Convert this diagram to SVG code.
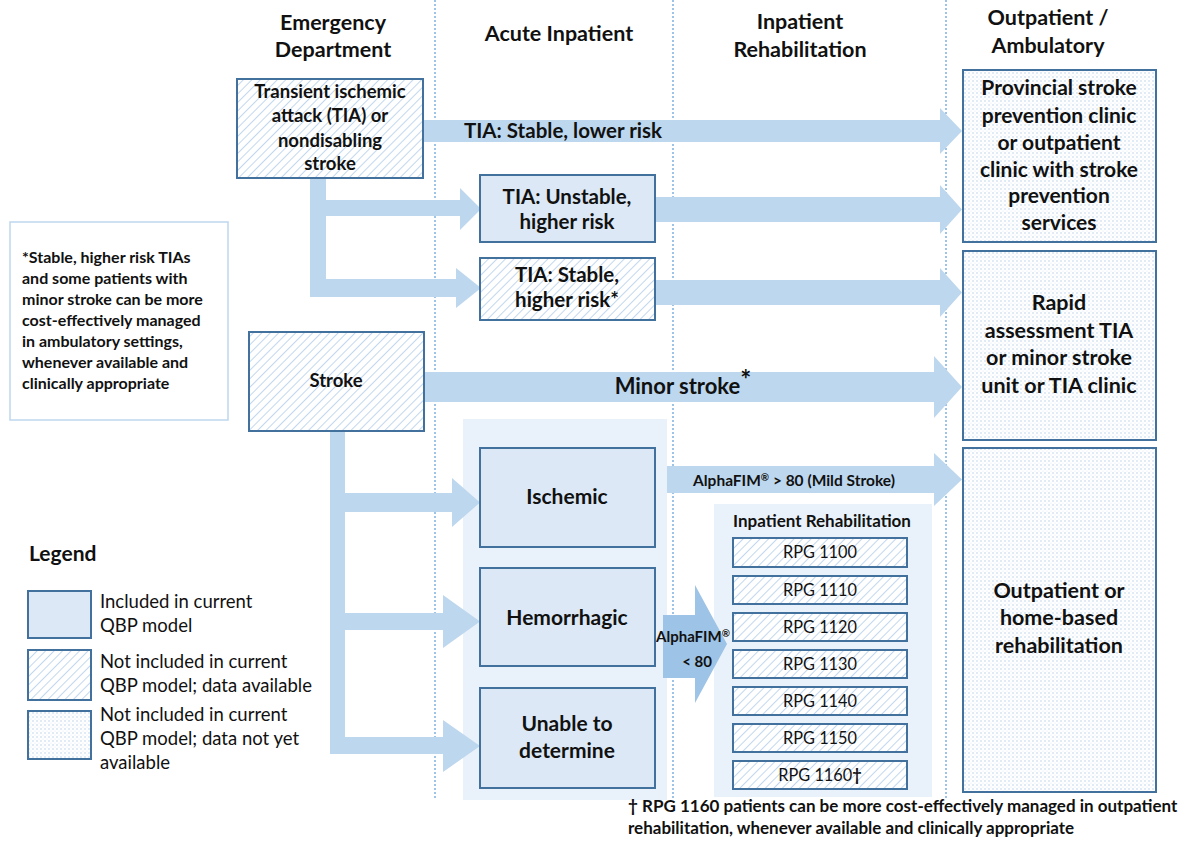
<svg xmlns="http://www.w3.org/2000/svg" width="1185" height="842" viewBox="0 0 1185 842">
<defs>
<pattern id="hatch" patternUnits="userSpaceOnUse" width="6" height="6" patternTransform="rotate(45)">
<rect width="6" height="6" fill="#ffffff"/>
<line x1="0" y1="0" x2="0" y2="6" stroke="#c2d7ee" stroke-width="2"/>
</pattern>
<pattern id="dots" patternUnits="userSpaceOnUse" width="4" height="4">
<rect width="4" height="4" fill="#ffffff"/>
<circle cx="1" cy="1" r="0.7" fill="#a9c8e8"/>
<circle cx="3" cy="3" r="0.5" fill="#d3e3f4"/>
</pattern>
</defs>
<style>
text{font-family:Lato,"Liberation Sans",sans-serif;fill:#111;}
.h{font-size:21.5px;font-weight:bold;text-anchor:middle;}
.b{font-weight:bold;text-anchor:middle;}
.n{text-anchor:middle;}
.box{stroke:#41719c;stroke-width:2;}
.solid{fill:#dce8f5;}
.hat{fill:url(#hatch);}
.dot{fill:url(#dots);}
.arr{fill:#bdd7ee;}
.arr2{fill:#9dc3e6;}
.sep{stroke:#9dc3e6;stroke-width:2;stroke-dasharray:2 2;fill:none;}
.cont{fill:#e9f1fa;}
.note{font-size:16px;font-weight:bold;}
.lg{font-size:18.5px;}
.rpg{font-size:16.3px;text-anchor:middle;}
</style>
<rect width="1185" height="842" fill="#ffffff"/>

<g id="headers">
<text class="h" x="333" y="30">Emergency</text>
<text class="h" x="333" y="57">Department</text>
<text class="h" x="559" y="41">Acute Inpatient</text>
<text class="h" x="800" y="29">Inpatient</text>
<text class="h" x="800" y="57">Rehabilitation</text>
<text class="h" x="1048" y="25">Outpatient /</text>
<text class="h" x="1048" y="53">Ambulatory</text>
</g>

<g id="containers">
<rect class="cont" x="463" y="419" width="204" height="381"/>
<rect class="cont" x="714" y="504" width="218" height="293"/>
</g>

<g id="separators">
<line class="sep" x1="435" y1="0" x2="435" y2="800"/>
<line class="sep" x1="673" y1="0" x2="673" y2="800"/>
<line class="sep" x1="946" y1="0" x2="946" y2="800"/>
</g>

<g id="connectors">
<polygon class="arr" points="423,120 940,120 940,108 962,131 940,154 940,142 423,142"/>
<polygon class="arr" points="310,178 326,178 326,200 460,200 460,188 481,209 460,230 460,216 326,216 326,279 456,279 456,268 481,288 456,308 456,297 310,297"/>
<polygon class="arr" points="655,197 940,197 940,185 962,209.5 940,234 940,222 655,222"/>
<polygon class="arr" points="655,280 940,280 940,268 962,292.5 940,317 940,305 655,305"/>
<polygon class="arr" points="424,372 934,372 934,356 962,387 934,418 934,402 424,402"/>
<polygon class="arr" points="330,431 345,431 345,493 452,493 452,478 480,502.5 452,527 452,512 345,512 345,613 443,613 443,595 480,621.5 443,648 443,630 345,630 345,737 443,737 443,720 480,746 443,772 443,754 330,754"/>
<polygon class="arr" points="667,466 934,466 934,453 962,479.5 934,506 934,493 667,493"/>
<polygon class="arr2" points="663,615 695,615 695,585 727,644 695,703 695,678 663,678"/>
<text class="b" x="794" y="486" font-size="15.5">AlphaFIM<tspan font-size="10" dy="-5">®</tspan><tspan dy="5"> &gt; 80 (Mild Stroke)</tspan></text>
<text class="b" x="693" y="642" font-size="15">AlphaFIM<tspan font-size="10" dy="-5">®</tspan></text>
<text class="b" x="697" y="667" font-size="15">&lt; 80</text>
<text class="b" x="563" y="138" font-size="20.5">TIA: Stable, lower risk</text>
<text class="b" x="683" y="394" font-size="22">Minor stroke<tspan font-size="26" dy="-5">*</tspan></text>
</g>

<g id="node-tia">
<rect class="box hat" x="237" y="79" width="186" height="99"/>
<text class="b" x="330" y="98" font-size="18.5">Transient ischemic</text>
<text class="b" x="330" y="122" font-size="18.5">attack (TIA) or</text>
<text class="b" x="330" y="147" font-size="18.5">nondisabling</text>
<text class="b" x="330" y="170" font-size="18.5">stroke</text>
</g>

<g id="node-tia-unstable">
<rect class="box solid" x="480" y="175" width="175" height="67"/>
<text class="b" x="567" y="204" font-size="20.5">TIA: Unstable,</text>
<text class="b" x="567" y="229" font-size="20.5">higher risk</text>
</g>

<g id="node-tia-stable">
<rect class="box hat" x="480" y="258" width="175" height="62"/>
<text class="b" x="567" y="282" font-size="20.5">TIA: Stable,</text>
<text class="b" x="567" y="307" font-size="20.5">higher risk*</text>
</g>

<g id="node-note">
<rect x="10" y="222" width="218" height="198" fill="#ffffff" stroke="#bdd7ee" stroke-width="1.5"/>
<text class="note" x="22" y="263">*Stable, higher risk TIAs</text>
<text class="note" x="22" y="284">and some patients with</text>
<text class="note" x="22" y="305">minor stroke can be more</text>
<text class="note" x="22" y="326">cost-effectively managed</text>
<text class="note" x="22" y="347">in ambulatory settings,</text>
<text class="note" x="22" y="368">whenever available and</text>
<text class="note" x="22" y="389">clinically appropriate</text>
</g>

<g id="node-stroke">
<rect class="box hat" x="249" y="332" width="175" height="99"/>
<text class="b" x="336" y="387" font-size="18.5">Stroke</text>
</g>

<g id="node-ischemic">
<rect class="box solid" x="480" y="448" width="175" height="99"/>
<text class="b" x="567" y="504" font-size="21">Ischemic</text>
</g>

<g id="node-hemorrhagic">
<rect class="box solid" x="480" y="568" width="175" height="98"/>
<text class="b" x="567" y="625" font-size="21">Hemorrhagic</text>
</g>

<g id="node-unable">
<rect class="box solid" x="480" y="688" width="175" height="100"/>
<text class="b" x="567" y="731" font-size="21">Unable to</text>
<text class="b" x="567" y="758" font-size="21">determine</text>
</g>

<g id="node-rehab">
<text class="b" x="822" y="527" font-size="17">Inpatient Rehabilitation</text>
<rect class="box hat" x="733" y="538" width="174" height="29"/>
<text class="rpg" x="820" y="558">RPG 1100</text>
<rect class="box hat" x="733" y="576" width="174" height="28"/>
<text class="rpg" x="820" y="596">RPG 1110</text>
<rect class="box hat" x="733" y="613" width="174" height="28"/>
<text class="rpg" x="820" y="633">RPG 1120</text>
<rect class="box hat" x="733" y="650" width="174" height="28"/>
<text class="rpg" x="820" y="670">RPG 1130</text>
<rect class="box hat" x="733" y="687" width="174" height="28"/>
<text class="rpg" x="820" y="707">RPG 1140</text>
<rect class="box hat" x="733" y="724" width="174" height="28"/>
<text class="rpg" x="820" y="744">RPG 1150</text>
<rect class="box hat" x="733" y="761" width="174" height="28"/>
<text class="rpg" x="820" y="781">RPG 1160<tspan font-weight="bold">†</tspan></text>
</g>

<g id="node-provincial">
<rect class="box dot" x="963" y="70" width="193" height="172"/>
<text class="b" x="1059" y="95" font-size="21">Provincial stroke</text>
<text class="b" x="1059" y="123" font-size="21">prevention clinic</text>
<text class="b" x="1059" y="150" font-size="21">or outpatient</text>
<text class="b" x="1059" y="177" font-size="21">clinic with stroke</text>
<text class="b" x="1059" y="203" font-size="21">prevention</text>
<text class="b" x="1059" y="230" font-size="21">services</text>
</g>

<g id="node-rapid">
<rect class="box dot" x="963" y="251" width="193" height="189"/>
<text class="b" x="1059" y="310" font-size="21.5">Rapid</text>
<text class="b" x="1059" y="338" font-size="21.5">assessment TIA</text>
<text class="b" x="1059" y="365" font-size="21.5">or minor stroke</text>
<text class="b" x="1059" y="393" font-size="21.5">unit or TIA clinic</text>
</g>

<g id="node-outpatient-rehab">
<rect class="box dot" x="963" y="448" width="193" height="344"/>
<text class="b" x="1059" y="598" font-size="21.5">Outpatient or</text>
<text class="b" x="1059" y="625" font-size="21.5">home-based</text>
<text class="b" x="1059" y="653" font-size="21.5">rehabilitation</text>
</g>

<g id="legend">
<text x="29" y="561" font-size="21" font-weight="bold">Legend</text>
<rect class="box solid" x="28" y="591" width="63" height="47"/>
<text class="lg" x="100" y="608">Included in current</text>
<text class="lg" x="100" y="632">QBP model</text>
<rect class="box hat" x="28" y="650" width="63" height="50"/>
<text class="lg" x="100" y="668">Not included in current</text>
<text class="lg" x="100" y="692">QBP model; data available</text>
<rect class="box dot" x="28" y="711" width="63" height="48"/>
<text class="lg" x="100" y="721">Not included in current</text>
<text class="lg" x="100" y="745">QBP model; data not yet</text>
<text class="lg" x="100" y="769">available</text>
</g>

<g id="footnote">
<text x="628" y="812" font-size="17" font-weight="bold">† RPG 1160 patients can be more cost-effectively managed in outpatient</text>
<text x="628" y="834" font-size="17" font-weight="bold">rehabilitation, whenever available and clinically appropriate</text>
</g>
</svg>
